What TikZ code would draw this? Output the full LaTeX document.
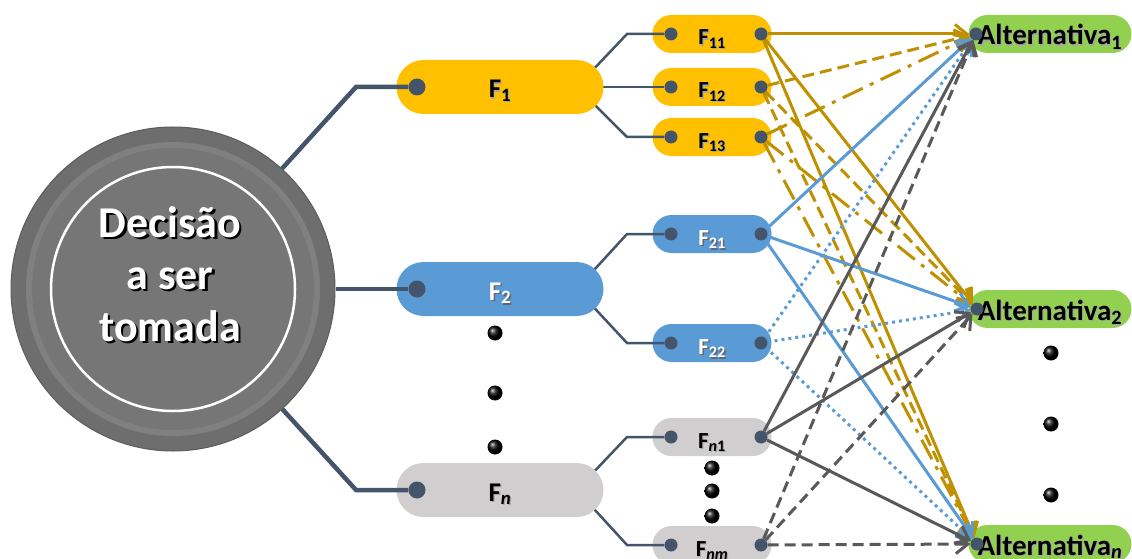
\documentclass[tikz,border=0pt]{standalone}
\usepackage{fontspec}
\setmainfont{Carlito}
\usetikzlibrary{arrows.meta,calc}

\definecolor{slate}{HTML}{44546A}
\definecolor{amber}{HTML}{FFC000}
\definecolor{amberline}{HTML}{BF9000}
\definecolor{skyblue}{HTML}{5B9BD5}
\definecolor{lightstone}{HTML}{D0CECE}
\definecolor{charcoal}{HTML}{595959}
\definecolor{leaf}{HTML}{92D050}
\definecolor{discouter}{HTML}{6E6E6E}
\definecolor{discedge}{HTML}{5C5C5C}
\definecolor{discband}{HTML}{808080}
\definecolor{discinner}{HTML}{767676}

\pgfdeclarelayer{under}
\pgfdeclarelayer{links}
\pgfdeclarelayer{front}
\pgfsetlayers{under,links,main,front}

% text with an offset drop shadow: colour, offset, text
\newcommand{\shtxt}[3]{\makebox[0pt][l]{\raisebox{-#2}{\hspace*{#2}\textcolor{#1}{#3}}}#3}
% dark label with a soft grey shadow
\newcommand{\dk}[1]{\shtxt{black!35}{1.2pt}{#1}}
% white label with a dark shadow
\newcommand{\wt}[1]{\shtxt{black!60}{1.5pt}{#1}}

\tikzset{
  fpill/.style={rectangle, rounded corners=27pt, minimum width=207pt, minimum height=54pt,
    inner sep=0pt, font=\fontsize{27}{30}\selectfont\bfseries, text height=22pt, text depth=0pt},
  spill/.style={rectangle, rounded corners=19pt, minimum width=119pt, minimum height=38pt,
    inner sep=0pt, font=\fontsize{23}{26}\selectfont\bfseries, text height=22pt, text depth=0pt},
  altpill/.style={rectangle, rounded corners=19pt, minimum width=163pt, minimum height=38pt,
    inner sep=0pt, fill=leaf, font=\fontsize{29}{30}\selectfont\bfseries, text height=22pt, text depth=0pt},
  bigdot/.style={circle, fill=slate, minimum size=17pt, inner sep=0pt},
  smalldot/.style={circle, fill=slate, minimum size=13pt, inner sep=0pt},
  ellip/.style={circle, minimum size=15pt, inner sep=0pt, shading=ball, ball color=black},
  trunk/.style={draw=slate, line width=4.5pt},
  branch/.style={draw=slate, line width=2.5pt},
  link/.style={line width=3pt, -{Straight Barb[length=12pt, width=19pt]}},
  gsolid/.style={link, draw=amberline},
  gdash/.style={link, draw=amberline, dash pattern=on 12pt off 6pt},
  gdashdot/.style={link, draw=amberline, dash pattern=on 22pt off 8pt on 4pt off 8pt},
  bsolid/.style={link, draw=skyblue},
  bdotted/.style={link, draw=skyblue, dash pattern=on 3pt off 4pt},
  ksolid/.style={link, draw=charcoal},
  kdash/.style={link, draw=charcoal, dash pattern=on 11pt off 6pt},
}

\begin{document}
\begin{tikzpicture}[x=1pt, y=-1pt]
\useasboundingbox (0,0) rectangle (1132,559);

% ---------- sub-factor and alternative capsules ----------
\begin{pgfonlayer}{under}
  \node[spill, fill=amber] (F11) at (712,34) {\dk{F\textsubscript{11}}};
  \node[spill, fill=amber] (F12) at (712,87) {\dk{F\textsubscript{12}}};
  \node[spill, fill=amber] (F13) at (712,137) {\dk{F\textsubscript{13}}};
  \node[spill, fill=skyblue, text=white] (F21) at (712,234) {\wt{F\textsubscript{21}}};
  \node[spill, fill=skyblue, text=white] (F22) at (712,343) {\wt{F\textsubscript{22}}};
  \node[spill, fill=lightstone] (Fn1) at (712,437) {\dk{F\textsubscript{\textit{n}1}}};
  \node[spill, fill=lightstone] (Fnm) at (712,545) {\dk{F\textsubscript{\textit{nm}}}};

  \node[altpill] (A1) at (1050,34) {\dk{Alternativa\textsubscript{1}}};
  \node[altpill] (A2) at (1050,309) {\dk{Alternativa\textsubscript{2}}};
  \node[altpill] (An) at (1050,544) {\dk{Alternativa\textsubscript{\textit{n}}}};
\end{pgfonlayer}

% ---------- decision disc ----------
\node[circle, minimum size=324pt, inner sep=0pt, fill=discouter, draw=discedge, line width=1pt] (dec) at (173,289) {};
\fill[discband] (dec.center) circle (147pt);
\fill[discinner] (dec.center) circle (141pt);
\draw[white, line width=2.5pt] (dec.center) circle (122pt);
\node[text=white, align=center, font=\fontsize{44}{52}\selectfont\bfseries] (dectxt) at (170,275)
  {\shtxt{black}{2.5pt}{Decisão}\\ \shtxt{black}{2.5pt}{a ser}\\ \shtxt{black}{2.5pt}{tomada}};

% ---------- factor capsules ----------
\node[fpill, fill=amber] (F1) at (500,87) {\dk{F\textsubscript{1}}};
\node[fpill, fill=skyblue, text=white] (F2) at (500,289) {\wt{F\textsubscript{2}}};
\node[fpill, fill=lightstone] (Fn) at (500,490) {\dk{F\textsubscript{\textit{n}}}};

% ---------- connection dots and ellipsis bullets ----------
\begin{pgfonlayer}{front}
  \node[bigdot] (d1) at (417,87) {};
  \node[bigdot] (d2) at (417,289) {};
  \node[bigdot] (dn) at (417,490) {};

  \node[smalldot] (s11L) at (671,34) {};
  \node[smalldot] (s12L) at (671,87) {};
  \node[smalldot] (s13L) at (671,137) {};
  \node[smalldot] (s21L) at (671,234) {};
  \node[smalldot] (s22L) at (671,343) {};
  \node[smalldot] (sn1L) at (671,437) {};
  \node[smalldot] (snmL) at (671,545) {};

  \node[smalldot] (s11R) at (761,34) {};
  \node[smalldot] (s12R) at (761,87) {};
  \node[smalldot] (s13R) at (761,137) {};
  \node[smalldot] (s21R) at (761,234) {};
  \node[smalldot] (s22R) at (761,343) {};
  \node[smalldot] (sn1R) at (761,437) {};
  \node[smalldot] (snmR) at (761,545) {};

  \node[smalldot] (a1) at (976,34) {};
  \node[smalldot] (a2) at (977,309) {};
  \node[smalldot] (an) at (977,544) {};

  \node[ellip] (e1) at (495,333) {};
  \node[ellip] (e2) at (495,393) {};
  \node[ellip] (e3) at (495,447) {};
  \node[ellip] (e4) at (712,468) {};
  \node[ellip] (e5) at (712,491) {};
  \node[ellip] (e6) at (712,516) {};
  \node[ellip] (e7) at (1051,353) {};
  \node[ellip] (e8) at (1051,424) {};
  \node[ellip] (e9) at (1051,495) {};
\end{pgfonlayer}

% ---------- bends ----------
\coordinate (c1) at (356,87);
\coordinate (cn) at (356,490);
\coordinate (k11) at (627,34);
\coordinate (k13) at (627,137);
\coordinate (k21) at (627,234);
\coordinate (k22) at (627,343);
\coordinate (kn1) at (627,437);
\coordinate (knm) at (627,545);

% ---------- factor to sub-factor branches ----------
\begin{pgfonlayer}{links}
  \draw[branch] ($(F1.east)+(-27,0)$) -- (k11) -- (s11L);
  \draw[branch] (F1.center) -- (s12L);
  \draw[branch] ($(F1.east)+(-27,0)$) -- (k13) -- (s13L);
  \draw[branch] ($(F2.east)+(-27,0)$) -- (k21) -- (s21L);
  \draw[branch] ($(F2.east)+(-27,0)$) -- (k22) -- (s22L);
  \draw[branch] ($(Fn.east)+(-27,0)$) -- (kn1) -- (sn1L);
  \draw[branch] ($(Fn.east)+(-27,0)$) -- (knm) -- (snmL);
\end{pgfonlayer}

% ---------- decision to factor trunks ----------
\draw[trunk] (dec) -- (c1) -- (d1);
\draw[trunk] (dec) -- (d2);
\draw[trunk] (dec) -- (cn) -- (dn);

% ---------- sub-factor to alternative links ----------
\foreach \t in {a1,a2,an} {
  \draw[gsolid] (s11R) -- (\t);
  \draw[gdash] (s12R) -- (\t);
  \draw[gdashdot] (s13R) -- (\t);
}
\foreach \t in {a1,a2,an} {
  \draw[bsolid] (s21R) -- (\t);
  \draw[bdotted] (s22R) -- (\t);
}
\foreach \t in {a1,a2,an} {
  \draw[ksolid] (sn1R) -- (\t);
  \draw[kdash] (snmR) -- (\t);
}
\end{tikzpicture}
\end{document}
